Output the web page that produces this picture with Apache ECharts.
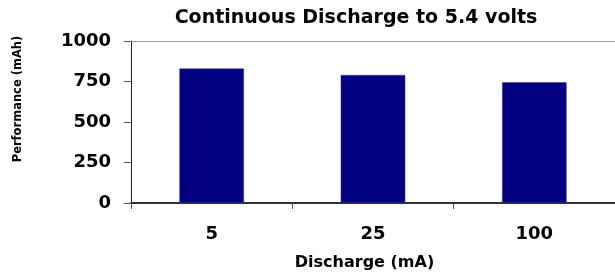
<!DOCTYPE html>
<html>
<head>
<meta charset="utf-8">
<script src="https://cdn.jsdelivr.net/npm/echarts@6/dist/echarts.min.js"></script>
<style>
  html, body { margin: 0; padding: 0; background: #fff; }
  #dischargeChart { width: 615px; height: 276px; }
</style>
</head>
<body>
<div id="dischargeChart"></div>
<script>
// discharge current categories (mA)
var dataX = ["5", "25", "100"];
// performance (mAh) for each category
var dataY = [830, 790, 745];
// y axis ticks
var yTicks = [0, 250, 500, 750, 1000];

var fontName = "DejaVu Sans";

var myChart = echarts.init(document.getElementById("dischargeChart"));

var option = {
  backgroundColor: "#fff",
  animation: false,
  title: {
    text: "Continuous Discharge to 5.4 volts",
    left: 356,
    top: 9,
    padding: 0,
    textAlign: "center",
    textStyle: {
      fontFamily: fontName,
      fontWeight: "bold",
      fontSize: 19,
      color: "#000"
    }
  },
  grid: {
    left: 131,
    right: -2,
    top: 41,
    bottom: 69,
    containLabel: false
  },
  xAxis: [
    {
      type: "category",
      data: dataX,
      position: "bottom",
      axisLine: {
        lineStyle: { color: "#333", width: 2 }
      },
      axisTick: {
        show: true,
        length: 6,
        lineStyle: { color: "#555", width: 1 }
      },
      axisLabel: {
        margin: 22,
        fontFamily: fontName,
        fontWeight: "bold",
        fontSize: 18,
        color: "#000"
      },
      name: "Discharge (mA)",
      nameLocation: "middle",
      nameGap: 52,
      nameTextStyle: {
        fontFamily: fontName,
        fontWeight: "bold",
        fontSize: 16,
        color: "#000",
        padding: [0, 17, 0, 0]
      }
    },
    {
      // top border of the plot area
      type: "category",
      data: dataX,
      position: "top",
      axisLine: {
        lineStyle: { color: "#999", width: 1 }
      },
      axisTick: { show: false },
      axisLabel: { show: false }
    }
  ],
  yAxis: {
    type: "value",
    min: yTicks[0],
    max: yTicks[yTicks.length - 1],
    interval: yTicks[1] - yTicks[0],
    axisLine: {
      show: true,
      lineStyle: { color: "#222", width: 1 }
    },
    axisTick: {
      show: true,
      length: 7,
      lineStyle: { color: "#555" }
    },
    splitLine: { show: false },
    axisLabel: {
      margin: 20,
      fontFamily: fontName,
      fontWeight: "bold",
      fontSize: 18,
      color: "#000",
      formatter: function (value) {
        return String(value);
      }
    },
    name: "Performance (mAh)",
    nameLocation: "middle",
    nameRotate: 90,
    nameGap: 107,
    nameTextStyle: {
      fontFamily: fontName,
      fontWeight: "bold",
      fontSize: 11.5,
      color: "#000",
      padding: [0, 0, 0, 46]
    }
  },
  series: [
    {
      name: "Performance",
      type: "bar",
      xAxisIndex: 0,
      barWidth: "40%",
      data: dataY,
      itemStyle: {
        color: "#000080",
        borderColor: "#3c3c9c",
        borderWidth: 0.5
      }
    }
  ]
};

myChart.setOption(option);
</script>
</body>
</html>
